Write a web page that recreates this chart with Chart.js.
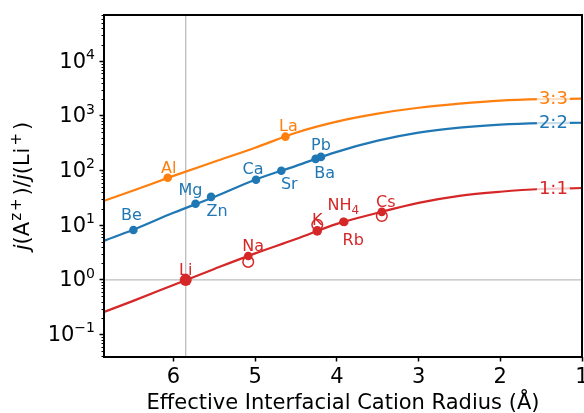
<!DOCTYPE html>
<html>
<head>
<meta charset="utf-8">
<script src="https://cdn.jsdelivr.net/npm/chart.js@4.4.0/dist/chart.umd.min.js"></script>
<style>
  html, body { margin: 0; padding: 0; background: #fff; overflow: hidden; }
</style>
</head>
<body>
<canvas id="c" width="584" height="413"></canvas>
<script>
const curveR = [6.85, 6.5, 6.0, 5.5, 5.0, 4.5, 4.0, 3.5, 3.0, 2.5, 2.0, 1.5, 1.0];
const curve11 = [0.26, 0.41, 0.81, 1.59, 3.06, 5.6, 10.6, 16.9, 25.7, 34.5, 41, 46, 48];
const curve22 = [5.2, 8.2, 16.9, 33, 68, 122, 220, 352, 493, 608, 690, 735, 750];
const curve33 = [28, 42.7, 80, 145, 262, 493, 785, 1100, 1410, 1670, 1900, 2020, 2070];

const ions11 = ["Li", "Na", "K", "NH₄", "Rb", "Cs"];
const r11 = [5.85, 5.085, 4.24, 3.92, 3.91, 3.45];
const j11 = [1, 2.75, 7.9, 11.6, 11.5, 17.6];

const ions22 = ["Be", "Mg", "Zn", "Ca", "Sr", "Ba", "Pb"];
const r22 = [6.49, 5.73, 5.54, 4.99, 4.68, 4.26, 4.195];
const j22 = [8.2, 24.7, 33, 68, 99, 164, 178];

const ions33 = ["Al", "La"];
const r33 = [6.07, 4.63];
const j33 = [74, 417];

// hollow markers (second estimate for some 1:1 ions)
const rOpen = [5.085, 4.24, 3.45];
const jOpen = [2.14, 10.2, 14.8];

const curveNames = ["1:1", "2:2", "3:3"];
const xTicks = [1, 2, 3, 4, 5, 6];
const yExps = [-1, 0, 1, 2, 3, 4];
const liRadius = 5.85;

const RED = "#d62728", BLUE = "#1f77b4", ORANGE = "#ff7f0e";
const FONT = "DejaVu Sans";

// text offset from marker (dx, baseline dy) in px
const labelPos = {
  "Li": [0, -5], "Na": [5, -5], "K": [0, -6], "NH₄": [0, -12], "Rb": [9, 23], "Cs": [4, -5],
  "Be": [-2, -10], "Mg": [-5, -9], "Zn": [6, 19], "Ca": [-3, -6], "Sr": [8, 18], "Ba": [9, 19], "Pb": [0, -7],
  "Al": [1, -5], "La": [3, -6]
};

const pts = (xs, ys) => xs.map((x, i) => ({ x, y: ys[i] }));
const sup = (n) => String(n).replace("-", "−");

const lineSet = (data, color) => ({
  type: "scatter", data: pts(curveR, data), showLine: true, borderColor: color, borderWidth: 2.2,
  pointRadius: 0, cubicInterpolationMode: "monotone", order: 3
});
const dotSet = (xs, ys, names, color) => ({
  type: "scatter", data: pts(xs, ys), names, backgroundColor: color, borderWidth: 0,
  pointRadius: (c) => names[c.dataIndex] === "Li" ? 6 : (names[c.dataIndex] === "K" ? 4.8 : 4.3), order: 1
});

// draw pieces [text, font, dy, gapAfter] left to right from x
function drawParts(ctx, parts, x0, y0) {
  let cx = x0;
  parts.forEach((p) => {
    ctx.font = `${p[1]} "${FONT}"`;
    ctx.fillText(p[0], cx, y0 + p[2]);
    cx += ctx.measureText(p[0]).width + (p[3] || 0);
  });
}
function partsWidth(ctx, parts) {
  let w = 0;
  parts.forEach((p) => { ctx.font = `${p[1]} "${FONT}"`; w += ctx.measureText(p[0]).width + (p[3] || 0); });
  return w;
}

const decor = {
  id: "decor",
  beforeDatasetsDraw(chart) {
    const { ctx, chartArea: a, scales: { x, y } } = chart;
    ctx.save();
    ctx.strokeStyle = "#bdbdbd";
    ctx.lineWidth = 1.3;
    const px = x.getPixelForValue(liRadius);
    const py = y.getPixelForValue(1);
    ctx.beginPath();
    ctx.moveTo(px, a.top); ctx.lineTo(px, a.bottom);
    ctx.moveTo(a.left, py); ctx.lineTo(a.right, py);
    ctx.stroke();
    ctx.restore();
  },
  afterDatasetsDraw(chart) {
    const { ctx, chartArea: a, scales: { x, y } } = chart;
    ctx.save();

    // ion labels
    ctx.textBaseline = "alphabetic";
    chart.data.datasets.forEach((ds, i) => {
      if (!ds.names) return;
      const meta = chart.getDatasetMeta(i);
      meta.data.forEach((el, k) => {
        const name = ds.names[k];
        const off = labelPos[name] || [0, -6];
        ctx.fillStyle = ds.backgroundColor;
        let parts = [[name, "16px", 0]];
        if (name.endsWith("₄")) parts = [[name.slice(0, -1), "16px", 0], ["4", "12px", 4]];
        ctx.textAlign = "left";
        const w = partsWidth(ctx, parts);
        drawParts(ctx, parts, el.x + off[0] - w / 2, el.y + off[1]);
      });
    });

    // curve labels with white box
    ctx.font = `18px "${FONT}"`;
    ctx.textAlign = "center";
    ctx.textBaseline = "middle";
    [[curve11, RED], [curve22, BLUE], [curve33, ORANGE]].forEach(([c, col], i) => {
      const cx = x.getPixelForValue(1.35);
      const cy = y.getPixelForValue(c[c.length - 1]);
      const w = ctx.measureText(curveNames[i]).width;
      ctx.fillStyle = "rgba(255,255,255,0.75)";
      ctx.fillRect(cx - w / 2 - 2, cy - 10, w + 4, 20);
      ctx.fillStyle = col;
      ctx.fillText(curveNames[i], cx, cy + 1);
    });

    // minor ticks on log axis
    ctx.strokeStyle = "#000";
    ctx.lineWidth = 1;
    ctx.beginPath();
    for (let e = -2; e <= 4; e++) {
      for (let k = 2; k <= 9; k++) {
        const v = k * Math.pow(10, e);
        if (v < y.min || v > y.max) continue;
        const py = Math.round(y.getPixelForValue(v)) + 0.5;
        ctx.moveTo(a.left - 2.5, py); ctx.lineTo(a.left, py);
      }
    }
    ctx.stroke();

    // frame
    ctx.lineWidth = 2;
    ctx.strokeRect(a.left, a.top, a.right - a.left, a.bottom - a.top);

    // y tick labels 10^n
    ctx.fillStyle = "#000";
    ctx.textAlign = "left";
    ctx.textBaseline = "middle";
    yExps.forEach((e) => {
      const py = y.getPixelForValue(Math.pow(10, e));
      const parts = [["10", "21px", 1], [sup(e), "14px", -6]];
      drawParts(ctx, parts, a.left - 9 - partsWidth(ctx, parts), py);
    });

    // y title with italic j and superscripts
    const title = [
      ["j", "italic 21px", 0, 0], ["(A", "21px", 0, 1], ["z", "15px", -7, 2], ["+", "15px", -7, 3], [")/", "21px", 0, 0],
      ["j", "italic 21px", 0, 0], ["(L", "21px", 0, 1], ["i", "21px", 0, 2], ["+", "15px", -7, 3], [")", "21px", 0, 0]
    ];
    const total = partsWidth(ctx, title);
    ctx.translate(24, (a.top + a.bottom) / 2);
    ctx.rotate(-Math.PI / 2);
    drawParts(ctx, title, -total / 2, 0);
    ctx.restore();
  }
};

new Chart(document.getElementById("c"), {
  type: "scatter",
  data: {
    datasets: [
      lineSet(curve11, RED), lineSet(curve22, BLUE), lineSet(curve33, ORANGE),
      { type: "scatter", data: pts(rOpen, jOpen), backgroundColor: "rgba(0,0,0,0)", borderColor: RED,
        borderWidth: 1.5, pointRadius: 5.3, order: 2 },
      dotSet(r11, j11, ions11, RED), dotSet(r22, j22, ions22, BLUE), dotSet(r33, j33, ions33, ORANGE)
    ]
  },
  options: {
    responsive: false,
    animation: false,
    layout: { padding: { top: 15, right: 2, left: 0, bottom: 0 }, autoPadding: false },
    plugins: { legend: { display: false }, tooltip: { enabled: false } },
    scales: {
      x: {
        type: "linear", reverse: true, min: 1, max: 6.85,
        afterBuildTicks: (s) => { s.ticks = xTicks.map((v) => ({ value: v })); },
        afterFit: (s) => { s.height = 56; },
        ticks: { font: { family: FONT, size: 21 }, color: "#000", padding: 3.5, maxRotation: 0, autoSkip: false },
        grid: { display: true, drawOnChartArea: false, tickLength: 4.5, tickColor: "#000", tickWidth: 1.5 },
        border: { display: false },
        title: { display: true, text: "Effective Interfacial Cation Radius (Å)", font: { family: FONT, size: 21 },
          color: "#000", padding: { top: 0, bottom: -3 } }
      },
      y: {
        type: "logarithmic", min: 0.039, max: 70000,
        afterBuildTicks: (s) => { s.ticks = yExps.map((e) => ({ value: Math.pow(10, e) })); },
        afterFit: (s) => { s.width = 104; },
        ticks: { display: false },
        grid: { display: true, drawOnChartArea: false, tickLength: 4.5, tickColor: "#000", tickWidth: 1.5 },
        border: { display: false }
      }
    }
  },
  plugins: [decor]
});
</script>
</body>
</html>
